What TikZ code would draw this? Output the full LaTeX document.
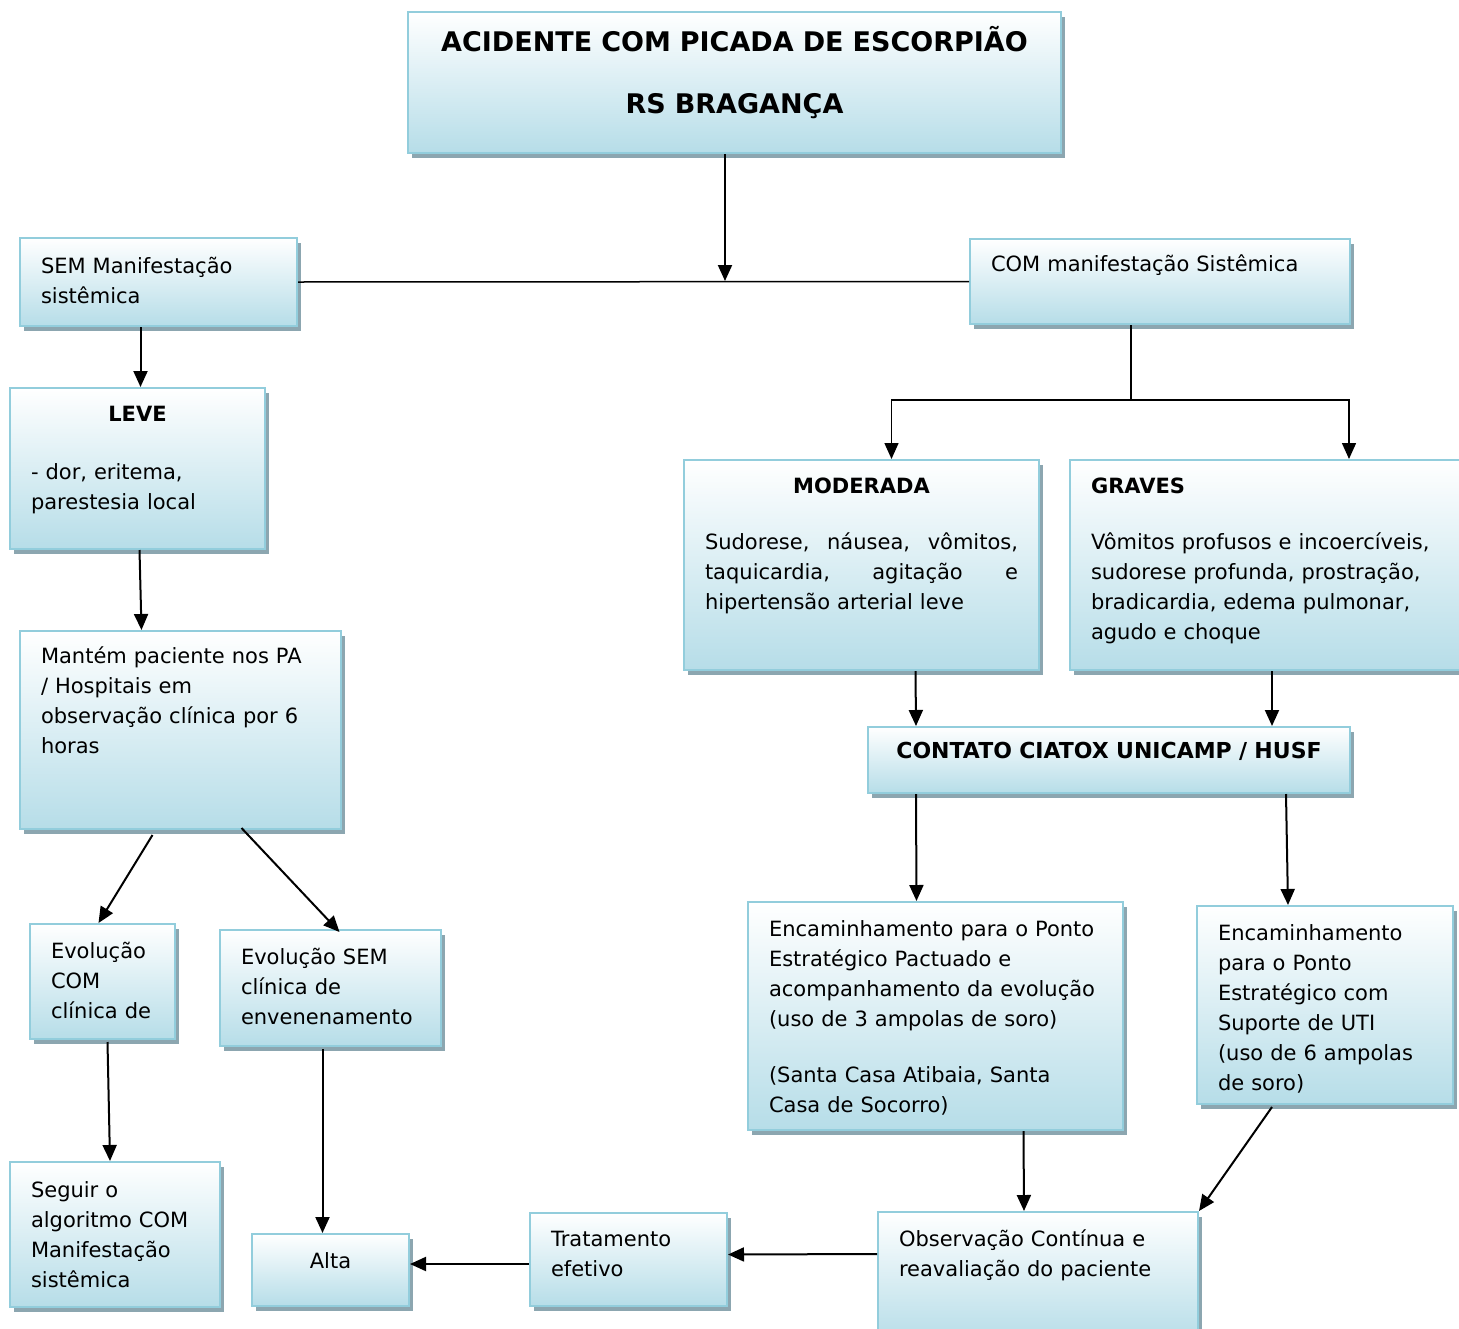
\documentclass[tikz,border=0pt]{standalone}
\usepackage{fontspec}
\setmainfont{DejaVu Sans}
\usetikzlibrary{arrows.meta,shadows}
\definecolor{borda}{RGB}{146,205,220}
\definecolor{azul}{RGB}{182,221,232}
\definecolor{sombra}{RGB}{140,166,176}
\tikzset{
  bloco/.style={draw=borda, line width=2pt, top color=white, bottom color=azul,
    drop shadow={shadow xshift=4pt, shadow yshift=-5pt, fill=sombra, opacity=1},
    anchor=north west, inner xsep=21pt, inner ysep=0pt, align=left,
    font=\fontsize{21}{30}\selectfont},
  seta/.style={line width=2pt, -{Triangle[length=16pt,width=14pt]}},
  liga/.style={line width=1.5pt}
}
\begin{document}
\begin{tikzpicture}[x=1pt,y=-1pt]
                \useasboundingbox (0,0) rectangle (1459,1328);
                % caixas
                \node[bloco, text width=611pt, text height=39pt, text depth=102pt, align=center,
                  font=\fontsize{27}{30}\selectfont\bfseries] (tit) at (407,11)
                  {ACIDENTE COM PICADA DE ESCORPIÃO\\[32pt]RS BRAGANÇA};
                \node[bloco, text width=235pt, text height=35pt, text depth=53pt] (sem) at (19,237)
                  {SEM Manifestação\\sistêmica};
                \node[bloco, text width=338pt, text height=32pt, text depth=53pt] (com) at (969,238)
                  {COM manifestação Sistêmica};
                \node[bloco, text width=213pt, text height=33pt, text depth=128pt] (lev) at (9,387)
                  {\makebox[\linewidth]{\bfseries LEVE}\\[28pt]- dor, eritema,\\parestesia local};
                \node[bloco, text width=279pt, text height=32pt, text depth=166pt] (mnt) at (19,630)
                  {Mantém paciente nos PA\\/ Hospitais em\\observação clínica por 6\\horas};
                \node[bloco, text width=103pt, text height=34pt, text depth=81pt] (evc) at (29,923)
                  {Evolução\\COM\\clínica de};
                \node[bloco, text width=179pt, text height=34pt, text depth=82pt] (evs) at (219,929)
                  {Evolução SEM\\clínica de\\envenenamento};
                \node[bloco, text width=168pt, text height=35pt, text depth=110pt] (seg) at (9,1161)
                  {Seguir o\\algoritmo COM\\Manifestação\\sistêmica};
                \node[bloco, text width=115pt, text height=34pt, text depth=38pt, align=center] (alt) at (251,1233)
                  {Alta};
                \node[bloco, text width=155pt, text height=33pt, text depth=60pt] (trt) at (529,1212)
                  {Tratamento\\efetivo};
                \node[bloco, text width=278pt, text height=34pt, text depth=96pt] (obs) at (877,1211)
                  {Observação Contínua e\\reavaliação do paciente};
                \node[bloco, text width=313pt, text height=33pt, text depth=177pt] (mod) at (683,459)
                  {\makebox[\linewidth]{\bfseries MODERADA}\\[26pt]%
                   \makebox[\linewidth]{Sudorese, \hfill náusea, \hfill vômitos,}\\%
                   \makebox[\linewidth]{taquicardia, \hfill agitação \hfill e}\\hipertensão arterial leve};
                \node[bloco, text width=348pt, text height=33pt, text depth=177pt] (gra) at (1069,459)
                  {\textbf{GRAVES}\\[26pt]Vômitos profusos e incoercíveis,\\sudorese profunda, prostração,\\bradicardia, edema pulmonar,\\agudo e choque};
                \node[bloco, text width=440pt, text height=31pt, text depth=35pt, align=center,
                  font=\fontsize{22}{30}\selectfont\bfseries] (ctt) at (867,726)
                  {CONTATO CIATOX UNICAMP / HUSF};
                \node[bloco, text width=333pt, text height=34pt, text depth=194pt] (enc) at (747,901)
                  {Encaminhamento para o Ponto\\Estratégico Pactuado e\\acompanhamento da evolução\\(uso de 3 ampolas de soro)\\[26pt](Santa Casa Atibaia, Santa\\Casa de Socorro)};
                \node[bloco, text width=214pt, text height=34pt, text depth=164pt] (uti) at (1196,905)
                  {Encaminhamento\\para o Ponto\\Estratégico com\\Suporte de UTI\\(uso de 6 ampolas\\de soro)};
                % ligacoes
                \coordinate (jn) at (725,281);
                \coordinate (br) at (1131,400);
                \draw[seta] (tit.south -| jn) -- (jn);
                \draw[liga] (sem.east) -- (com.west);
                \draw[liga] (com.south -| br) -- (br);
                \draw[liga,-{Triangle[length=16pt,width=14pt]}] (br) -| ([xshift=30pt]mod.north);
                \draw[liga,-{Triangle[length=16pt,width=14pt]}] (br) -| ([xshift=84pt]gra.north);
                \draw[seta] ([xshift=-18pt]sem.south) -- ([xshift=3pt]lev.north);
                \draw[seta] ([xshift=2pt]lev.south) -- ([xshift=-39pt]mnt.north);
                \draw[seta] ([xshift=-28pt,yshift=-5pt]mnt.south) -- ([xshift=-4pt]evc.north);
                \draw[seta] ([xshift=61pt,yshift=2pt]mnt.south) -- ([xshift=9pt,yshift=-3pt]evs.north);
                \draw[seta] ([xshift=5pt,yshift=-2pt]evc.south) -- ([xshift=-5pt]seg.north);
                \draw[seta] ([xshift=-8pt,yshift=-2pt]evs.south) -- ([xshift=-8pt]alt.north);
                \draw[seta] ([yshift=-4.5pt]trt.west) -- ([yshift=6pt]alt.east);
                \draw[seta] ([yshift=23pt]obs.west) -- ([yshift=5pt]trt.east);
                \draw[seta] ([xshift=54pt]mod.south) -- ([xshift=-193pt]ctt.north);
                \draw[seta] ([xshift=7pt]gra.south) -- ([xshift=163pt]ctt.north);
                \draw[seta] ([xshift=-193pt]ctt.south) -- ([xshift=-19pt]enc.north);
                \draw[seta] ([xshift=177pt]ctt.south) -- ([xshift=-37pt]uti.north);
                \draw[seta] ([xshift=88pt]enc.south) -- ([xshift=-14pt]obs.north);
                \draw[seta] ([xshift=-53pt,yshift=-2pt]uti.south) -- (obs.north east);
\end{tikzpicture}
\end{document}
